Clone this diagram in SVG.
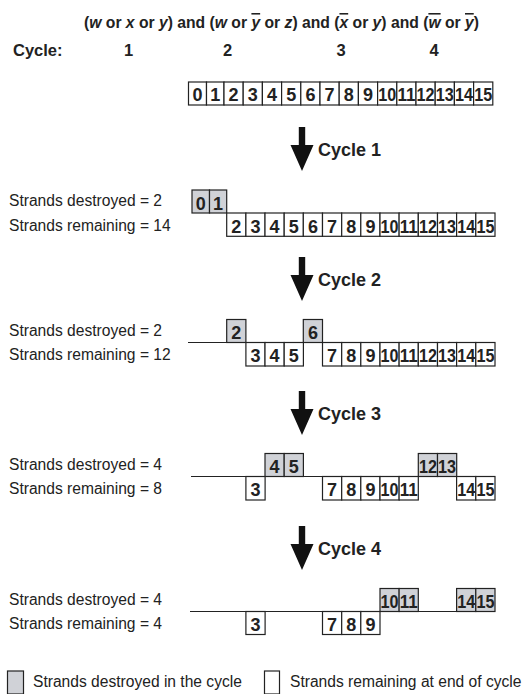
<svg xmlns="http://www.w3.org/2000/svg" xmlns:xlink="http://www.w3.org/1999/xlink" width="523" height="694" viewBox="0 0 523 694">
<style>
.g{fill:#d0d2d7;stroke:#222;stroke-width:1.2}
.w{fill:#fff;stroke:#222;stroke-width:1.2}
.n{font-family:"Liberation Sans",Arial,sans-serif;font-weight:bold;font-size:18px;fill:#222;text-anchor:middle}
.t{font-family:"Liberation Sans",Arial,sans-serif;font-size:15.6px;fill:#222}
.b{font-family:"Liberation Sans",Arial,sans-serif;font-weight:bold;fill:#222}
.ln{stroke:#222;stroke-width:1.2;fill:none}
.ar{fill:#111}
.i{font-style:italic}
.o{text-decoration:overline}
</style>
<defs>
<path id="arrow" class="ar" d="M298.8,127 H305.2 V145 H313.5 L302,171 L290.5,145 H298.8 Z"/>
</defs>
<g id="title">
<text class="b" x="281.5" y="28" font-size="15.7" text-anchor="middle">(<tspan class="i">w</tspan> or <tspan class="i">x</tspan> or <tspan class="i">y</tspan>) and (<tspan class="i">w</tspan> or <tspan class="i o">y</tspan> or <tspan class="i">z</tspan>) and (<tspan class="i o">x</tspan> or <tspan class="i">y</tspan>) and (<tspan class="i o">w</tspan> or <tspan class="i o">y</tspan>)</text>
</g>
<g id="cycle-header" class="b" font-size="16.5">
<text x="13" y="56">Cycle:</text>
<text x="128.5" y="56" text-anchor="middle">1</text>
<text x="227.5" y="56" text-anchor="middle">2</text>
<text x="341" y="56" text-anchor="middle">3</text>
<text x="434" y="56" text-anchor="middle">4</text>
</g>
<g id="row0">
<g id="r0-0"><rect class="w" x="188.5" y="82" width="18" height="23"/><text class="n" x="197.5" y="101">0</text></g>
<g id="r0-1"><rect class="w" x="206.5" y="82" width="17.5" height="23"/><text class="n" x="215.25" y="101">1</text></g>
<g id="r0-2"><rect class="w" x="224" y="82" width="19.2" height="23"/><text class="n" x="233.6" y="101">2</text></g>
<g id="r0-3"><rect class="w" x="243.2" y="82" width="19.2" height="23"/><text class="n" x="252.8" y="101">3</text></g>
<g id="r0-4"><rect class="w" x="262.4" y="82" width="19.2" height="23"/><text class="n" x="272" y="101">4</text></g>
<g id="r0-5"><rect class="w" x="281.6" y="82" width="19.2" height="23"/><text class="n" x="291.2" y="101">5</text></g>
<g id="r0-6"><rect class="w" x="300.8" y="82" width="19.2" height="23"/><text class="n" x="310.4" y="101">6</text></g>
<g id="r0-7"><rect class="w" x="320" y="82" width="19.2" height="23"/><text class="n" x="329.6" y="101">7</text></g>
<g id="r0-8"><rect class="w" x="339.2" y="82" width="19.2" height="23"/><text class="n" x="348.8" y="101">8</text></g>
<g id="r0-9"><rect class="w" x="358.4" y="82" width="19.2" height="23"/><text class="n" x="368" y="101">9</text></g>
<g id="r0-10"><rect class="w" x="377.6" y="82" width="19.2" height="23"/><text class="n" x="387.2" y="101" textLength="18" lengthAdjust="spacingAndGlyphs">10</text></g>
<g id="r0-11"><rect class="w" x="396.8" y="82" width="19.2" height="23"/><text class="n" x="406.4" y="101" textLength="18" lengthAdjust="spacingAndGlyphs">11</text></g>
<g id="r0-12"><rect class="w" x="416" y="82" width="19.2" height="23"/><text class="n" x="425.6" y="101" textLength="18" lengthAdjust="spacingAndGlyphs">12</text></g>
<g id="r0-13"><rect class="w" x="435.2" y="82" width="19.2" height="23"/><text class="n" x="444.8" y="101" textLength="18" lengthAdjust="spacingAndGlyphs">13</text></g>
<g id="r0-14"><rect class="w" x="454.4" y="82" width="19.2" height="23"/><text class="n" x="464" y="101" textLength="18" lengthAdjust="spacingAndGlyphs">14</text></g>
<g id="r0-15"><rect class="w" x="473.6" y="82" width="19.2" height="23"/><text class="n" x="483.2" y="101" textLength="18" lengthAdjust="spacingAndGlyphs">15</text></g>
</g>
<g id="connectors">
<use xlink:href="#arrow"/>
<use xlink:href="#arrow" y="130"/>
<use xlink:href="#arrow" y="264"/>
<use xlink:href="#arrow" y="399"/>
<line class="ln" x1="188" y1="342.5" x2="494.9" y2="342.5"/>
<line class="ln" x1="191" y1="476.5" x2="494.9" y2="476.5"/>
<line class="ln" x1="190" y1="611.5" x2="494.9" y2="611.5"/>
</g>
<g id="cycle-labels" class="b" font-size="18">
<text x="318" y="155.5">Cycle 1</text>
<text x="318" y="285.5">Cycle 2</text>
<text x="318" y="419.5">Cycle 3</text>
<text x="318" y="554.5">Cycle 4</text>
</g>
<g id="counts" class="t">
<text x="9" y="206">Strands destroyed = 2</text>
<text x="9" y="230.5">Strands remaining = 14</text>
<text x="9" y="336">Strands destroyed = 2</text>
<text x="9" y="360">Strands remaining = 12</text>
<text x="9" y="470">Strands destroyed = 4</text>
<text x="9" y="494">Strands remaining = 8</text>
<text x="9" y="605">Strands destroyed = 4</text>
<text x="9" y="629">Strands remaining = 4</text>
</g>
<g id="row1">
<g id="c1-0"><rect class="g" x="192" y="190" width="17.5" height="23"/><text class="n" x="200.75" y="209.5">0</text></g>
<g id="c1-1"><rect class="g" x="209.5" y="190" width="17.2" height="23"/><text class="n" x="218.1" y="209.5">1</text></g>
<g id="c1-2"><rect class="w" x="226.7" y="213" width="19.2" height="23.3"/><text class="n" x="236.3" y="232.5">2</text></g>
<g id="c1-3"><rect class="w" x="245.9" y="213" width="19.2" height="23.3"/><text class="n" x="255.5" y="232.5">3</text></g>
<g id="c1-4"><rect class="w" x="265" y="213" width="19.2" height="23.3"/><text class="n" x="274.6" y="232.5">4</text></g>
<g id="c1-5"><rect class="w" x="284.2" y="213" width="19.2" height="23.3"/><text class="n" x="293.8" y="232.5">5</text></g>
<g id="c1-6"><rect class="w" x="303.3" y="213" width="19.2" height="23.3"/><text class="n" x="312.9" y="232.5">6</text></g>
<g id="c1-7"><rect class="w" x="322.5" y="213" width="19.2" height="23.3"/><text class="n" x="332.1" y="232.5">7</text></g>
<g id="c1-8"><rect class="w" x="341.7" y="213" width="19.2" height="23.3"/><text class="n" x="351.3" y="232.5">8</text></g>
<g id="c1-9"><rect class="w" x="360.8" y="213" width="19.2" height="23.3"/><text class="n" x="370.4" y="232.5">9</text></g>
<g id="c1-10"><rect class="w" x="380" y="213" width="19.2" height="23.3"/><text class="n" x="389.6" y="232.5" textLength="18" lengthAdjust="spacingAndGlyphs">10</text></g>
<g id="c1-11"><rect class="w" x="399.1" y="213" width="19.2" height="23.3"/><text class="n" x="408.7" y="232.5" textLength="18" lengthAdjust="spacingAndGlyphs">11</text></g>
<g id="c1-12"><rect class="w" x="418.3" y="213" width="19.2" height="23.3"/><text class="n" x="427.9" y="232.5" textLength="18" lengthAdjust="spacingAndGlyphs">12</text></g>
<g id="c1-13"><rect class="w" x="437.5" y="213" width="19.2" height="23.3"/><text class="n" x="447.1" y="232.5" textLength="18" lengthAdjust="spacingAndGlyphs">13</text></g>
<g id="c1-14"><rect class="w" x="456.6" y="213" width="19.2" height="23.3"/><text class="n" x="466.2" y="232.5" textLength="18" lengthAdjust="spacingAndGlyphs">14</text></g>
<g id="c1-15"><rect class="w" x="475.8" y="213" width="19.2" height="23.3"/><text class="n" x="485.4" y="232.5" textLength="18" lengthAdjust="spacingAndGlyphs">15</text></g>
</g>
<g id="row2">
<g id="c2-2"><rect class="g" x="226.7" y="319.5" width="19.2" height="23"/><text class="n" x="236.3" y="339">2</text></g>
<g id="c2-6"><rect class="g" x="303.3" y="319.5" width="19.2" height="23"/><text class="n" x="312.9" y="339">6</text></g>
<g id="c2-3"><rect class="w" x="245.9" y="342.5" width="19.2" height="23.5"/><text class="n" x="255.5" y="362">3</text></g>
<g id="c2-4"><rect class="w" x="265" y="342.5" width="19.2" height="23.5"/><text class="n" x="274.6" y="362">4</text></g>
<g id="c2-5"><rect class="w" x="284.2" y="342.5" width="19.2" height="23.5"/><text class="n" x="293.8" y="362">5</text></g>
<g id="c2-7"><rect class="w" x="322.5" y="342.5" width="19.2" height="23.5"/><text class="n" x="332.1" y="362">7</text></g>
<g id="c2-8"><rect class="w" x="341.7" y="342.5" width="19.2" height="23.5"/><text class="n" x="351.3" y="362">8</text></g>
<g id="c2-9"><rect class="w" x="360.8" y="342.5" width="19.2" height="23.5"/><text class="n" x="370.4" y="362">9</text></g>
<g id="c2-10"><rect class="w" x="380" y="342.5" width="19.2" height="23.5"/><text class="n" x="389.6" y="362" textLength="18" lengthAdjust="spacingAndGlyphs">10</text></g>
<g id="c2-11"><rect class="w" x="399.1" y="342.5" width="19.2" height="23.5"/><text class="n" x="408.7" y="362" textLength="18" lengthAdjust="spacingAndGlyphs">11</text></g>
<g id="c2-12"><rect class="w" x="418.3" y="342.5" width="19.2" height="23.5"/><text class="n" x="427.9" y="362" textLength="18" lengthAdjust="spacingAndGlyphs">12</text></g>
<g id="c2-13"><rect class="w" x="437.5" y="342.5" width="19.2" height="23.5"/><text class="n" x="447.1" y="362" textLength="18" lengthAdjust="spacingAndGlyphs">13</text></g>
<g id="c2-14"><rect class="w" x="456.6" y="342.5" width="19.2" height="23.5"/><text class="n" x="466.2" y="362" textLength="18" lengthAdjust="spacingAndGlyphs">14</text></g>
<g id="c2-15"><rect class="w" x="475.8" y="342.5" width="19.2" height="23.5"/><text class="n" x="485.4" y="362" textLength="18" lengthAdjust="spacingAndGlyphs">15</text></g>
</g>
<g id="row3">
<g id="c3-4"><rect class="g" x="265" y="453.5" width="19.2" height="23"/><text class="n" x="274.6" y="473">4</text></g>
<g id="c3-5"><rect class="g" x="284.2" y="453.5" width="19.2" height="23"/><text class="n" x="293.8" y="473">5</text></g>
<g id="c3-12"><rect class="g" x="418.3" y="453.5" width="19.2" height="23"/><text class="n" x="427.9" y="473" textLength="18" lengthAdjust="spacingAndGlyphs">12</text></g>
<g id="c3-13"><rect class="g" x="437.5" y="453.5" width="19.2" height="23"/><text class="n" x="447.1" y="473" textLength="18" lengthAdjust="spacingAndGlyphs">13</text></g>
<g id="c3-3"><rect class="w" x="245.9" y="476.5" width="19.2" height="23.5"/><text class="n" x="255.5" y="496">3</text></g>
<g id="c3-7"><rect class="w" x="322.5" y="476.5" width="19.2" height="23.5"/><text class="n" x="332.1" y="496">7</text></g>
<g id="c3-8"><rect class="w" x="341.7" y="476.5" width="19.2" height="23.5"/><text class="n" x="351.3" y="496">8</text></g>
<g id="c3-9"><rect class="w" x="360.8" y="476.5" width="19.2" height="23.5"/><text class="n" x="370.4" y="496">9</text></g>
<g id="c3-10"><rect class="w" x="380" y="476.5" width="19.2" height="23.5"/><text class="n" x="389.6" y="496" textLength="18" lengthAdjust="spacingAndGlyphs">10</text></g>
<g id="c3-11"><rect class="w" x="399.1" y="476.5" width="19.2" height="23.5"/><text class="n" x="408.7" y="496" textLength="18" lengthAdjust="spacingAndGlyphs">11</text></g>
<g id="c3-14"><rect class="w" x="456.6" y="476.5" width="19.2" height="23.5"/><text class="n" x="466.2" y="496" textLength="18" lengthAdjust="spacingAndGlyphs">14</text></g>
<g id="c3-15"><rect class="w" x="475.8" y="476.5" width="19.2" height="23.5"/><text class="n" x="485.4" y="496" textLength="18" lengthAdjust="spacingAndGlyphs">15</text></g>
</g>
<g id="row4">
<g id="c4-10"><rect class="g" x="380" y="588.5" width="19.2" height="23"/><text class="n" x="389.6" y="608" textLength="18" lengthAdjust="spacingAndGlyphs">10</text></g>
<g id="c4-11"><rect class="g" x="399.1" y="588.5" width="19.2" height="23"/><text class="n" x="408.7" y="608" textLength="18" lengthAdjust="spacingAndGlyphs">11</text></g>
<g id="c4-14"><rect class="g" x="456.6" y="588.5" width="19.2" height="23"/><text class="n" x="466.2" y="608" textLength="18" lengthAdjust="spacingAndGlyphs">14</text></g>
<g id="c4-15"><rect class="g" x="475.8" y="588.5" width="19.2" height="23"/><text class="n" x="485.4" y="608" textLength="18" lengthAdjust="spacingAndGlyphs">15</text></g>
<g id="c4-3"><rect class="w" x="245.9" y="611.5" width="19.2" height="23"/><text class="n" x="255.5" y="631">3</text></g>
<g id="c4-7"><rect class="w" x="322.5" y="611.5" width="19.2" height="23"/><text class="n" x="332.1" y="631">7</text></g>
<g id="c4-8"><rect class="w" x="341.7" y="611.5" width="19.2" height="23"/><text class="n" x="351.3" y="631">8</text></g>
<g id="c4-9"><rect class="w" x="360.8" y="611.5" width="19.2" height="23"/><text class="n" x="370.4" y="631">9</text></g>
</g>
<g id="legend">
<g id="legend-destroyed"><rect class="g" x="7.5" y="671" width="16" height="23"/><text class="t" x="33" y="687">Strands destroyed in the cycle</text></g>
<g id="legend-remaining"><rect class="w" x="264.5" y="671" width="15" height="23"/><text class="t" x="290" y="687">Strands remaining at end of cycle</text></g>
</g>
</svg>
